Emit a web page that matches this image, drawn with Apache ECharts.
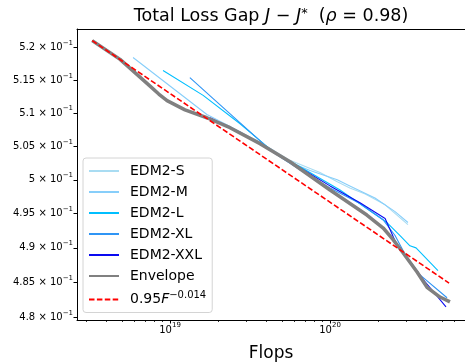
<!DOCTYPE html>
<html>
<head>
<meta charset="utf-8">
<script src="https://cdn.jsdelivr.net/npm/echarts@6/dist/echarts.min.js"></script>
<style>
  html, body { margin: 0; padding: 0; background: #fff; }
  #chart { width: 465px; height: 362px; }
</style>
</head>
<body>
<div id="chart"></div>
<script>
// values: flops (x) and total loss gap J - J* (y)
const sFlops = [3.26e18, 4.87e18, 7.50e18, 9.58e18, 1.24e19, 1.70e19, 2.37e19, 3.65e19, 5.62e19, 8.66e19, 1.11e20, 1.33e20, 1.66e20, 2.21e20, 3.07e20];
const sLoss = [0.5211, 0.5182, 0.5141, 0.5118, 0.5105, 0.5093, 0.5078, 0.5056, 0.5029, 0.5011, 0.4997, 0.4988, 0.4979, 0.4963, 0.4934];

const mFlops = [5.87e18, 1.70e19, 2.37e19, 3.40e19, 4.40e19, 5.62e19, 7.50e19, 1.11e20, 1.33e20, 1.91e20, 2.55e20, 3.07e20];
const mLoss = [0.5185, 0.5098, 0.5080, 0.5060, 0.5044, 0.5026, 0.5014, 0.5000, 0.4991, 0.4973, 0.4953, 0.4937];

const lFlops = [9.04e18, 1.61e19, 2.74e19, 4.40e19, 6.49e19, 1.155e20, 1.86e20, 2.27e20, 2.74e20, 3.16e20, 3.45e20, 4.73e20];
const lLoss = [0.5165, 0.5127, 0.5084, 0.5042, 0.50195, 0.4985, 0.4951, 0.4937, 0.4918, 0.4903, 0.4900, 0.4867];

const xlFlops = [1.33e19, 1.86e19, 4.40e19, 6.49e19, 1.0e20, 1.54e20, 2.15e20, 2.55e20, 2.94e20, 3.65e20, 5.39e20];
const xlLoss = [0.5154, 0.5122, 0.5041, 0.5015, 0.4988, 0.4965, 0.4941, 0.4918, 0.4891, 0.4861, 0.4828];

const xxlFlops = [1.78e19, 2.00e19, 2.74e19, 4.22e19, 6.49e19, 1.0e20, 1.54e20, 2.21e20, 2.585e20, 3.16e20, 3.93e20, 5.31e20];
const xxlLoss = [0.5093, 0.5087, 0.5071, 0.5044, 0.5018, 0.4991, 0.4966, 0.4943, 0.4907, 0.4880, 0.4851, 0.4815];

const envFlops = [3.26e18, 4.87e18, 7.50e18, 8.50e18, 9.58e18, 1.24e19, 1.70e19, 2.37e19, 3.65e19, 5.62e19, 1.0e20, 1.70e20, 2.15e20, 2.48e20, 2.86e20, 3.50e20, 4.04e20, 4.87e20, 5.62e20];
const envLoss = [0.5211, 0.5182, 0.5141, 0.5129, 0.5119, 0.5105, 0.5093, 0.5078, 0.5054, 0.5027, 0.4985, 0.4948, 0.4929, 0.4912, 0.4893, 0.4865, 0.4843, 0.4829, 0.4822];

// fitted power law, ends of the dashed line
const fitFlops = [3.26e18, 5.55e20];
const fitLoss = [0.5211, 0.4849];

const xMajorTicks = [1e19, 1e20];
const xMinorTicks = [3e18, 4e18, 5e18, 6e18, 7e18, 8e18, 9e18, 2e19, 3e19, 4e19, 5e19, 6e19, 7e19, 8e19, 9e19, 2e20, 3e20, 4e20, 5e20, 6e20];
const yTicks = [0.48, 0.485, 0.49, 0.495, 0.5, 0.505, 0.51, 0.515, 0.52];
const yTickLabels = ['4.8', '4.85', '4.9', '4.95', '5', '5.05', '5.1', '5.15', '5.2'];

const xRange = [2.62e18, 6.98e20];
const yRange = [0.47962, 0.5229];

const FONT = 'DejaVu Sans';
const FIT_NAME = '0.95F^-0.014';

const lg = Math.log10;
const toLog = (xs, ys) => xs.map((x, i) => [lg(x), lg(ys[i])]);
const yTickLogs = yTicks.map(lg);

function modelLine(name, xs, ys, color, width) {
  return {
    name,
    type: 'line',
    data: toLog(xs, ys),
    symbol: 'none',
    silent: true,
    lineStyle: { color, width },
    itemStyle: { color },
  };
}

const supRich = {
  n: { fontFamily: FONT, fontSize: 10, color: '#000', padding: [5, 0, 5, 0] },
  s: { fontFamily: FONT, fontSize: 7, color: '#000', verticalAlign: 'top', padding: [2, 0, 0, 0] },
};

const chart = echarts.init(document.getElementById('chart'), null, { renderer: 'canvas' });

chart.setOption({
  animation: false,
  backgroundColor: '#fff',
  title: {
    text: '{n|Total Loss Gap }{i|J}{n| − }{i|J}{s|*}{n|  (}{i|ρ}{n| = 0.98)}',
    left: 271,
    top: 7,
    padding: 0,
    textAlign: 'center',
    textStyle: {
      fontFamily: FONT,
      fontSize: 17.5,
      fontWeight: 'normal',
      color: '#000',
      rich: {
        n: { fontFamily: FONT, fontSize: 17.5, color: '#000' },
        i: { fontFamily: FONT, fontSize: 17.5, fontStyle: 'italic', color: '#000' },
        s: { fontFamily: FONT, fontSize: 13, color: '#000', verticalAlign: 'top' },
      },
    },
  },
  grid: { left: 77, top: 29, right: 0, bottom: 42, containLabel: false, outerBoundsMode: 'none' },
  legend: {
    orient: 'vertical',
    left: 83,
    top: 158,
    itemWidth: 30,
    itemHeight: 14,
    itemGap: 7,
    padding: [6, 6, 6, 5],
    backgroundColor: '#fff',
    borderColor: '#d4d4d4',
    borderWidth: 1,
    borderRadius: 3,
    selectedMode: false,
    itemStyle: { opacity: 0 },
    data: ['EDM2-S', 'EDM2-M', 'EDM2-L', 'EDM2-XL', 'EDM2-XXL', 'Envelope', FIT_NAME],
    formatter: (name) => name === FIT_NAME ? '{m|0.95}{i|F}{s|−0.014}' : '{m|' + name + '}',
    textStyle: {
      fontFamily: FONT,
      fontSize: 14,
      color: '#000',
      rich: {
        m: { fontFamily: FONT, fontSize: 14, color: '#000', padding: [0, 0, 0, 6] },
        i: { fontFamily: FONT, fontSize: 14, fontStyle: 'italic', color: '#000' },
        s: { fontFamily: FONT, fontSize: 10, color: '#000', verticalAlign: 'top', padding: [-2.5, 0, 0, 0] },
      },
    },
  },
  xAxis: [
    {
      type: 'value',
      position: 'bottom',
      min: lg(xRange[0]),
      max: lg(xRange[1]),
      name: 'Flops',
      nameLocation: 'middle',
      nameGap: 25,
      nameTextStyle: { fontFamily: FONT, fontSize: 17, color: '#000' },
      axisLine: { show: true, lineStyle: { color: '#000', width: 1 } },
      axisTick: { show: true, length: 3.5, customValues: xMajorTicks.map(lg), lineStyle: { color: '#000' } },
      axisLabel: {
        show: true,
        margin: 0,
        customValues: xMajorTicks.map(lg),
        formatter: (v) => '{n|10}{s|' + Math.round(v) + '}',
        rich: supRich,
      },
      splitLine: { show: false },
    },
    {
      type: 'value',
      position: 'bottom',
      min: lg(xRange[0]),
      max: lg(xRange[1]),
      axisLine: { show: false },
      axisTick: { show: true, length: 2, customValues: xMinorTicks.map(lg), lineStyle: { color: '#000', width: 0.8 } },
      axisLabel: { show: false },
      splitLine: { show: false },
    },
    {
      type: 'value',
      position: 'top',
      min: lg(xRange[0]),
      max: lg(xRange[1]),
      axisLine: { show: true, lineStyle: { color: '#000', width: 1 } },
      axisTick: { show: false },
      axisLabel: { show: false },
      splitLine: { show: false },
    },
  ],
  yAxis: {
    type: 'value',
    min: lg(yRange[0]),
    max: lg(yRange[1]),
    axisLine: { show: true, lineStyle: { color: '#000', width: 1 } },
    axisTick: { show: true, length: 3.5, customValues: yTickLogs, lineStyle: { color: '#000' } },
    axisLabel: {
      show: true,
      margin: 4,
      customValues: yTickLogs,
      formatter: (v) => {
        const i = yTickLogs.findIndex((t) => Math.abs(t - v) < 1e-6);
        return '{n|' + yTickLabels[i] + ' × 10}{s|−1}';
      },
      rich: supRich,
    },
    splitLine: { show: false },
  },
  series: [
    modelLine('EDM2-S', sFlops, sLoss, '#a9dcf2', 1.1),
    modelLine('EDM2-M', mFlops, mLoss, '#87cefa', 1.1),
    modelLine('EDM2-L', lFlops, lLoss, '#00bfff', 1.1),
    modelLine('EDM2-XL', xlFlops, xlLoss, '#2f95f5', 1.1),
    modelLine('EDM2-XXL', xxlFlops, xxlLoss, '#0a0af0', 1.1),
    modelLine('Envelope', envFlops, envLoss, '#808080', 3.5),
    {
      name: FIT_NAME,
      type: 'line',
      data: toLog(fitFlops, fitLoss),
      symbol: 'none',
      silent: true,
      lineStyle: { color: '#ff0000', width: 1.6, type: [5.5, 2.4] },
      itemStyle: { color: '#ff0000' },
    },
  ],
});
</script>
</body>
</html>
